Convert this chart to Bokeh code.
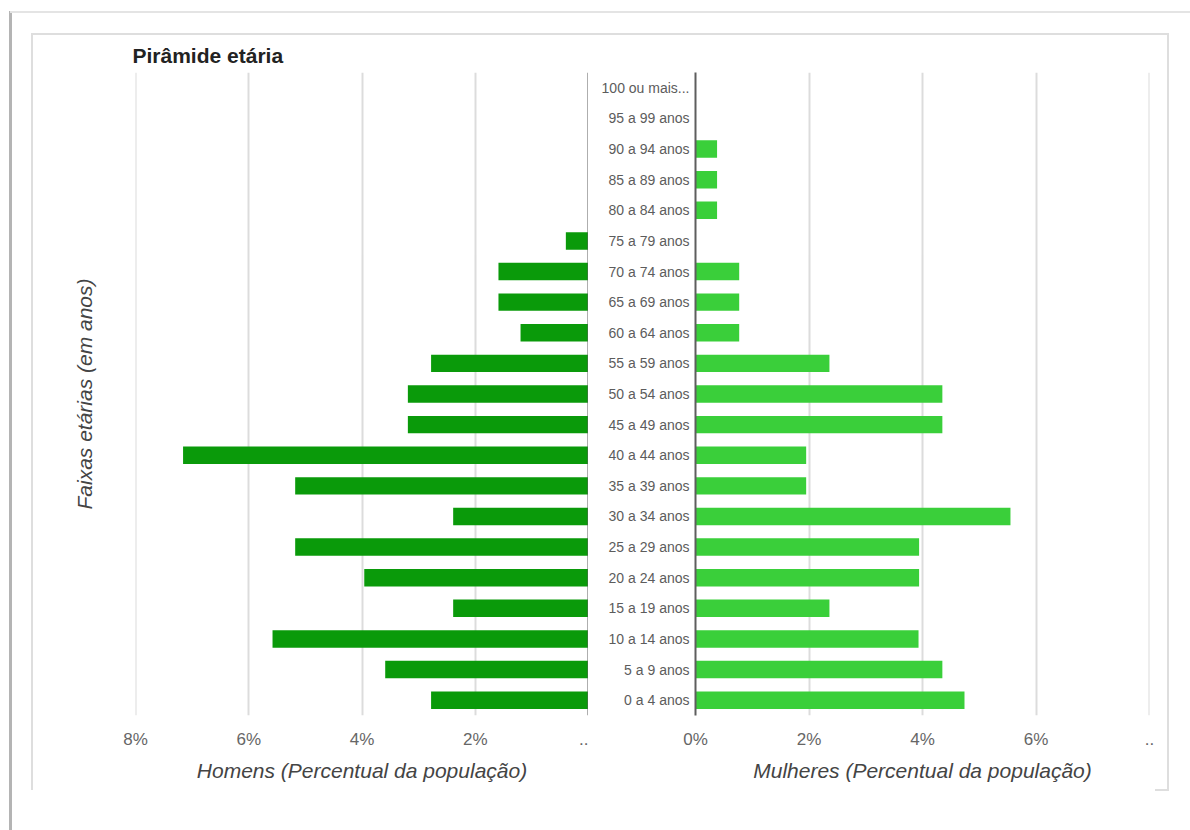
from bokeh.plotting import figure
from bokeh.layouts import row
from bokeh.models import ColumnDataSource, FactorRange, Range1d, FixedTicker, Span, Title
from bokeh.embed import file_html
from bokeh.resources import INLINE

# Age groups, bottom to top
ages = [
    "0 a 4 anos", "5 a 9 anos", "10 a 14 anos", "15 a 19 anos", "20 a 24 anos",
    "25 a 29 anos", "30 a 34 anos", "35 a 39 anos", "40 a 44 anos", "45 a 49 anos",
    "50 a 54 anos", "55 a 59 anos", "60 a 64 anos", "65 a 69 anos", "70 a 74 anos",
    "75 a 79 anos", "80 a 84 anos", "85 a 89 anos", "90 a 94 anos", "95 a 99 anos",
    "100 ou mais...",
]
# Share of the population (%) per age group
men = [2.78, 3.59, 5.58, 2.39, 3.96, 5.18, 2.39, 5.18, 7.16, 3.19, 3.19, 2.78,
       1.20, 1.59, 1.59, 0.40, 0.0, 0.0, 0.0, 0.0, 0.0]
women = [4.74, 4.35, 3.93, 2.36, 3.94, 3.94, 5.55, 1.95, 1.95, 4.35, 4.35, 2.36,
         0.77, 0.77, 0.77, 0.0, 0.38, 0.38, 0.38, 0.0, 0.0]

pct_ticks = [0, 2, 4, 6, 8]
men_tick_labels = ["..", "2%", "4%", "6%", "8%"]
women_tick_labels = ["0%", "2%", "4%", "6%", ".."]

chart_title = "Pirâmide etária"
age_axis_title = "Faixas etárias (em anos)"
men_axis_title = "Homens (Percentual da população)"
women_axis_title = "Mulheres (Percentual da população)"

MEN_COLOR = "#0a9a0a"
WOMEN_COLOR = "#3acf3a"
GRID_COLOR = "#dcdcdc"
AXIS_COLOR = "#5e5e5e"
FONT = "Liberation Sans"

src = ColumnDataSource(dict(age=ages, men=men, women=women))
age_range = FactorRange(factors=ages, range_padding=0)


def style_x_axis(p, labels, title):
    ax = p.xaxis[0]
    ax.ticker = FixedTicker(ticks=pct_ticks)
    ax.major_label_overrides = dict(zip(pct_ticks, labels))
    ax.axis_line_color = None
    ax.major_tick_line_color = None
    ax.minor_tick_line_color = None
    ax.major_tick_out = 0
    ax.major_label_standoff = 14
    ax.major_label_text_font = FONT
    ax.major_label_text_font_size = "17px"
    ax.major_label_text_color = "#666666"
    ax.axis_label = title
    ax.axis_label_standoff = 7
    ax.axis_label_text_font = FONT
    ax.axis_label_text_font_size = "21px"
    ax.axis_label_text_font_style = "italic"
    ax.axis_label_text_color = "#444444"
    p.xgrid.ticker = FixedTicker(ticks=pct_ticks)
    p.xgrid.grid_line_color = GRID_COLOR
    p.xgrid.grid_line_width = 2
    p.ygrid.grid_line_color = None
    # outermost gridline sits on the frame edge
    p.add_layout(Span(location=8, dimension="height", line_color=GRID_COLOR,
                      line_width=2))


common = dict(
    height=830, y_range=age_range, output_backend="svg", toolbar_location=None,
    min_border_top=72, min_border_bottom=115, outline_line_color=None,
    border_fill_alpha=0, background_fill_alpha=0,
)

# Men: percentages grow to the left
left = figure(width=588, x_range=Range1d(8, 0), min_border_left=135,
              min_border_right=0, y_axis_location=None, **common)
left.hbar(y="age", left="men", right=0, height=0.57, source=src,
          fill_color=MEN_COLOR, line_color=None)
style_x_axis(left, men_tick_labels, men_axis_title)
left.add_layout(Span(location=0, dimension="height", line_color=AXIS_COLOR, line_width=2))

# Vertical title for the age axis
left.add_layout(Title(text=age_axis_title, align="center", standoff=79,
                      text_font=FONT, text_font_size="21px", text_font_style="italic",
                      text_color="#444444"), "left")

left.title.text = chart_title
left.title.align = "left"
left.title.offset = -3
left.title.text_font = FONT
left.title.text_font_size = "21px"
left.title.text_font_style = "bold"
left.title.text_color = "#222222"
left.title.standoff = 12

# Women: percentages grow to the right, age labels between the two panels
right = figure(width=602, x_range=Range1d(0, 8), min_border_left=107,
               min_border_right=41, **common)
right.hbar(y="age", left=0, right="women", height=0.57, source=src,
           fill_color=WOMEN_COLOR, line_color=None)
style_x_axis(right, women_tick_labels, women_axis_title)
rax = right.yaxis[0]
rax.axis_line_color = AXIS_COLOR
rax.axis_line_width = 2
rax.major_tick_line_color = None
rax.minor_tick_line_color = None
rax.major_tick_out = 0
rax.major_label_standoff = 6
rax.major_label_text_font = FONT
rax.major_label_text_font_size = "14px"
rax.major_label_text_color = "#5c5c5c"

frame_lines = ", ".join([
    "linear-gradient(#e4e4e4,#e4e4e4) 10px 11px / calc(100% - 10px) 2px no-repeat",
    "linear-gradient(#b4b4b4,#b4b4b4) 9px 11px / 3px calc(100% - 11px) no-repeat",
    "linear-gradient(#dedede,#dedede) 31px 33px / 1138px 2px no-repeat",
    "linear-gradient(#dedede,#dedede) 31px 33px / 2px 757px no-repeat",
    "linear-gradient(#dedede,#dedede) 1167px 33px / 2px 758px no-repeat",
    "linear-gradient(#dedede,#dedede) 1155px 789px / 14px 2px no-repeat",
])

layout = row(left, right, styles={"background": frame_lines + ", #ffffff"})

open("out.html", "w").write(file_html(layout, INLINE))
